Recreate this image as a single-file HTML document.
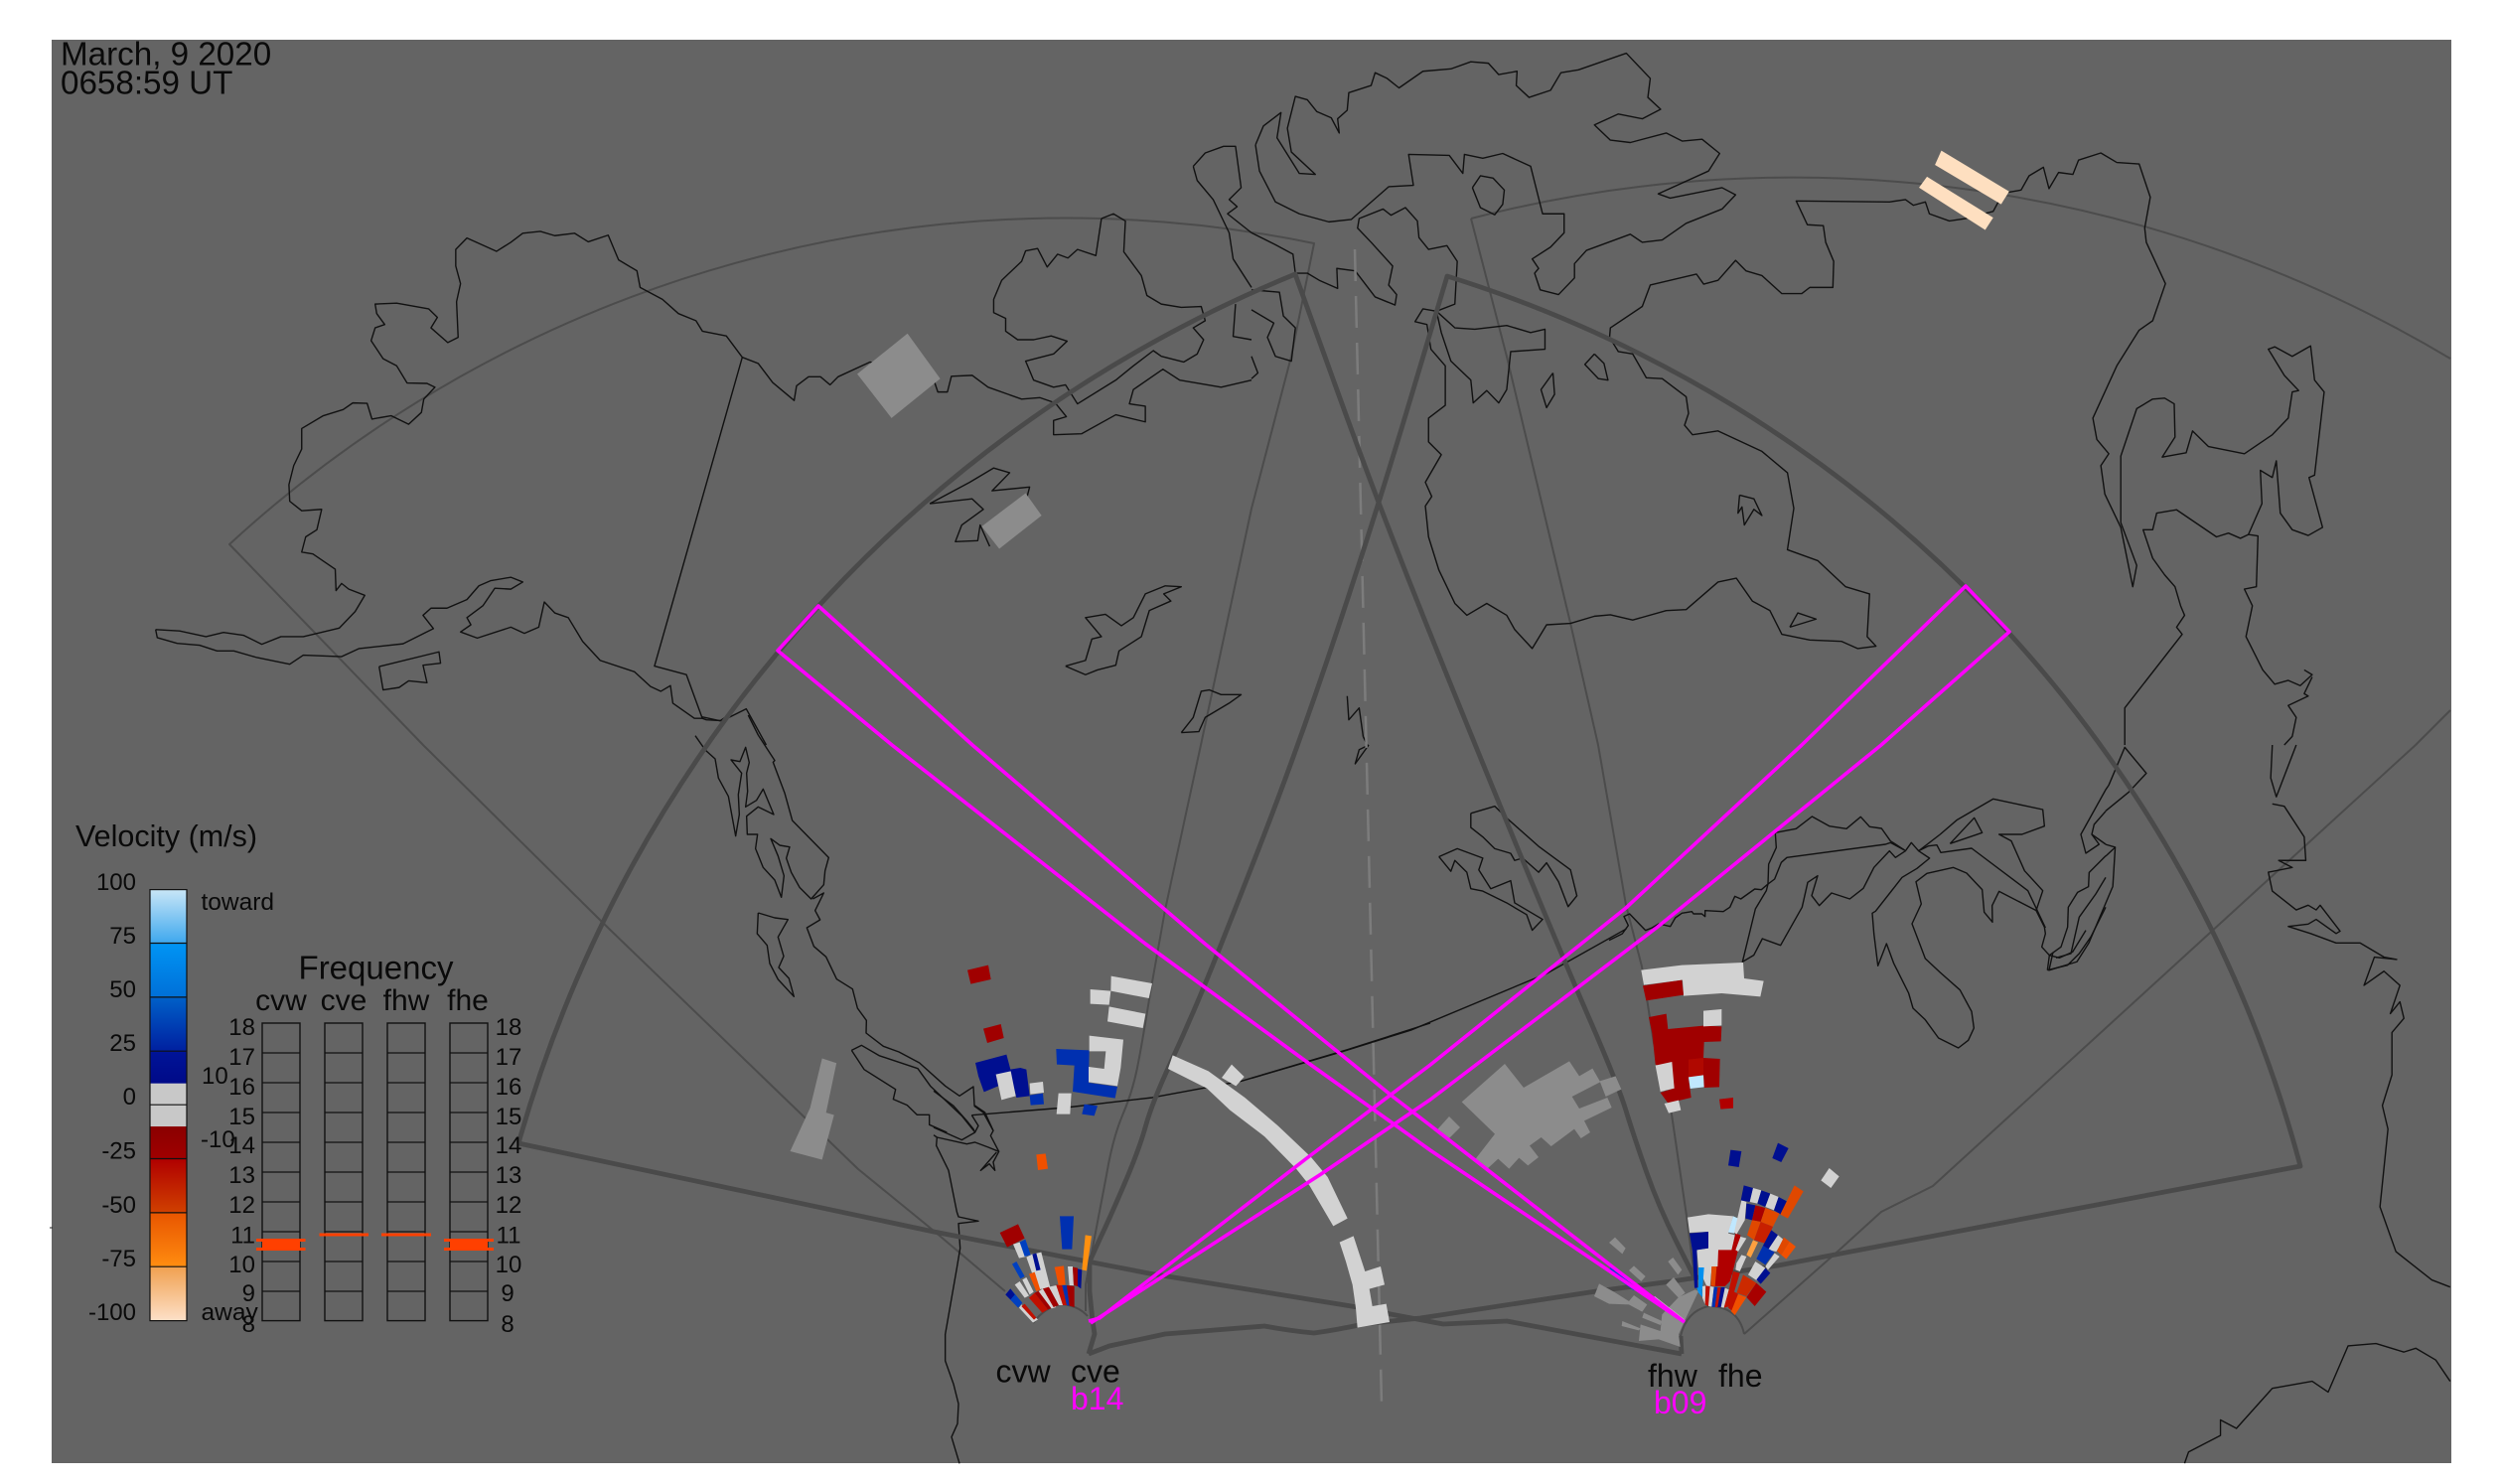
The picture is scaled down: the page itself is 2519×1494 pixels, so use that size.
<!DOCTYPE html>
<html><head><meta charset="utf-8"><style>
html,body{margin:0;padding:0;background:#fff}
svg{display:block;position:absolute;left:0;top:0}
text{font-family:"Liberation Sans",sans-serif;fill:#0a0a0a}
.c polyline{fill:none;stroke:#111;stroke-width:1.4;stroke-linejoin:round;vector-effect:non-scaling-stroke}
.t{fill:none;stroke:#4c4c4c;stroke-width:2;stroke-linejoin:round}
.k{fill:none;stroke:#4a4a4a;stroke-width:4.8;stroke-linejoin:round}
.m{fill:none;stroke:#ff00ff;stroke-width:3.6;stroke-linejoin:round}
.g polygon{fill:#8c8c8c}
.w{fill:#d2d2d2}.r{fill:#a00000}.n{fill:#000f90}.b{fill:#0030b0}.o{fill:#e04800}.a{fill:#f05000}.e{fill:#c01000}
.f rect{fill:none;stroke:#111;stroke-width:1.4}
</style></head><body>
<svg width="2519" height="1494" viewBox="0 0 2519 1494" xmlns="http://www.w3.org/2000/svg">
<rect width="2519" height="1494" fill="#fff"/>
<rect x="52" y="40" width="2416" height="1433" fill="#646464"/>
<line x1="50" y1="1236" x2="53" y2="1236" stroke="#222"/>

<!-- thin FoVs -->
<path class="t" d="M1012,1300 L940,1239 L864,1177 L607,929 L426,750 L231,548 A1243,1243 0 0 1 1323,245 L1300,359 L1260,512 L1209,750 L1173,916 Q1167,950 1158,1000 Q1150,1050 1145,1075 Q1140,1100 1130,1123 Q1120,1147 1114,1183 L1093,1293 L1093,1320"/>
<path class="t" d="M1040,1332 Q1052,1316 1068,1313 Q1085,1314 1095,1325"/>
<polyline class="t" points="1481,220 1517,359 1581,627 1609,750 1637,911 1653,973 1665,1050 1682,1115 1698,1224 1706,1285"/>
<path class="t" d="M1481,220 A1292,1292 0 0 1 2467,361"/>
<polyline class="t" points="1756,1343 1850,1260 1894,1220 1946,1194 2224,940 2432,750 2467,715"/>
<path class="t" d="M1693,1362 L1692,1345 Q1698,1320 1720,1315 Q1750,1315 1756,1343"/>

<!-- coast -->
<g class="c">
<g transform="scale(0.80357,0.47832)">
<polyline points="195,1325 225,1328 258,1340 280,1331 305,1337 328,1356 352,1340 380,1340 425,1322 445,1287 457,1253 437,1240 428,1228 421,1243 420,1198 392,1166 378,1162 383,1130 397,1115 403,1072 378,1075 363,1055 362,1020 368,980 378,945 378,902 405,875 430,862 442,848 460,849 466,882 490,875 512,893 528,868 531,840 545,815 535,807 510,806 497,770 480,755 465,717 470,690 482,683 472,660 470,640 497,638 537,650 548,668 540,690 561,721 574,710 572,635 577,597 571,560 571,525 585,501 622,529 640,510 655,491 677,487 695,496 720,491 737,509 762,495 775,547 798,570 802,605 830,630 850,660 872,675 880,697 910,707 930,752 950,765 968,805 995,843 998,812 1013,793 1028,793 1040,810 1050,793 1090,762 1170,800 1175,825 1187,825 1192,792 1218,790 1238,815 1280,840 1303,837 1322,848 1336,877 1320,885 1320,915 1355,913 1398,873 1435,888 1435,855 1415,850 1420,820 1457,777 1478,800 1530,815 1568,800"/>
<polyline points="195,1325 197,1342 222,1354 250,1358 272,1370 293,1370 322,1384 363,1398 380,1379 428,1382 450,1365 505,1355 543,1323 530,1295 540,1280 560,1280 585,1262 600,1233 615,1222 640,1215 655,1225 640,1240 620,1238 605,1275 585,1300 590,1315 577,1330 598,1343 640,1320 657,1333 675,1320 682,1267 695,1290 712,1300 730,1350 752,1390 795,1414 815,1445 828,1455 840,1443 843,1480 870,1512 880,1512 885,1515 905,1517 935,1492 960,1568"/>
<polyline points="475,1403 550,1372 552,1396 530,1400 535,1437 512,1433 500,1447 480,1452 475,1403"/>
<polyline points="930,752 820,1402 860,1420 880,1512"/>
<polyline points="1380,460 1395,450 1410,465 1408,530 1430,580 1437,622 1455,640 1480,647 1505,645 1510,675 1495,690 1508,715 1500,745 1483,762 1455,750 1445,738 1420,770 1398,800 1350,850 1335,810 1320,815 1295,800 1285,760 1320,745 1337,718 1317,707 1295,715 1275,715 1260,697 1260,670 1245,658 1245,630 1255,590 1280,550 1285,528 1300,523 1312,562 1325,535 1338,543 1350,525 1373,538 1380,460"/>
<polyline points="1495,350 1510,322 1533,308 1548,308 1555,395 1540,420 1550,435 1538,450 1568,490"/>
<polyline points="1495,350 1500,380 1520,420 1540,490 1545,545 1568,605"/>
<polyline points="1548,640 1545,708 1568,715"/>
<polyline points="1165,1060 1215,1015 1245,985 1265,995 1243,1033 1290,1025 1283,1070 1255,1080"/>
<polyline points="1165,1060 1218,1050 1232,1072 1205,1105 1197,1140 1225,1138 1228,1105 1240,1150"/>
<polyline points="1335,1402 1360,1390 1368,1345 1380,1340 1360,1300 1385,1293 1405,1317 1420,1300 1435,1250 1460,1233 1480,1235 1458,1250 1467,1265 1440,1285 1430,1340 1402,1370 1398,1400 1375,1410 1360,1420 1335,1402"/>
<polyline points="1480,1542 1495,1510 1505,1455 1515,1452 1530,1462 1555,1462 1540,1480 1510,1510 1502,1540 1480,1542"/>
</g>
<g transform="translate(1260,0) scale(0.80293,0.47832)">
<polyline points="0,490 30,515 52,535 55,575 70,575 85,590 108,607 107,565 130,570 155,625 180,642 182,620 172,600 177,560 150,510 133,480 135,460 165,440 175,453 193,437 208,465 210,500 222,525 245,517 258,550 255,640 232,655 215,650 205,677 220,683 225,735 243,770 243,853 222,880 222,930 238,957 218,1015 226,1045 218,1065 222,1130 235,1200 255,1270 270,1295 295,1270 320,1295 330,1325 352,1365 370,1315 400,1312 430,1297 450,1294 478,1305 520,1285 545,1283 585,1225 608,1217 628,1265 650,1285 665,1335 700,1347 740,1350 760,1365 783,1360 772,1340 775,1250 745,1235 710,1180 672,1157 680,1070 672,995 640,950 585,907 553,915 543,895 548,870 545,835 515,797 495,795 478,745 460,740 449,710 450,690 490,645 500,600 525,590 558,577 567,598 585,590 607,548 620,570 640,580 665,618 690,618 700,605 729,605 730,550 720,510 717,475 697,473 683,423 800,425 820,420 830,432 845,425 850,450 875,465 895,460 930,445 938,420 948,405 965,400 975,370 993,352 1000,397 1012,363 1030,367 1037,337 1065,322 1085,342 1113,345 1127,415 1120,480 1122,510 1146,597 1130,675 1113,695 1085,770 1055,880 1060,925 1075,955 1065,980 1070,1040 1090,1110 1105,1235 1110,1190 1090,1100 1090,960 1110,860 1130,840 1145,838 1157,850 1158,920 1142,962 1172,953 1180,907 1200,940 1245,955 1280,915 1300,880 1305,825 1313,822 1295,790 1275,735 1283,730 1305,750 1328,728 1333,800 1345,825 1333,1000 1326,1005 1343,1110 1325,1127 1305,1115 1290,1080 1285,970 1280,1005 1265,990 1267,1060 1250,1125 1262,1128 1260,1235 1245,1240 1255,1275 1247,1340 1268,1410 1283,1440 1300,1432 1315,1443 1330,1420 1320,1410"/>
<polyline points="1330,1425 1320,1460 1325,1465 1300,1485 1310,1510 1305,1550 1295,1568"/>
<polyline points="1250,1125 1240,1133 1225,1122 1210,1130 1160,1073 1135,1080 1130,1115 1118,1115 1130,1175 1145,1210 1158,1235 1165,1275 1170,1295 1160,1320 1167,1335 1095,1490 1095,1568"/>
<polyline points="5,305 15,265 37,237 32,290 60,365 80,367 50,320 45,270 55,203 70,210 82,235 100,248 110,280 108,250 120,232 122,195 150,180 155,153 170,165 185,185 215,150 250,145 275,130 297,133 310,157 333,150 332,180 348,205 375,190 388,153 410,147 470,112 500,165 497,205 513,230 490,250 460,240 430,263 450,295 475,300 520,280 540,297 565,293 587,323 573,360 510,408 525,417 590,395 607,410 590,440 545,470 515,505 490,510 475,493 420,527 405,555 405,585 385,620 362,610 355,575 360,565 352,545 375,520 392,490 392,450 365,450 350,350 315,323 290,333 267,325 265,365 248,327 197,325 203,390 172,393 125,462 97,467 60,450 30,425 10,360 5,305"/>
<polyline points="277,395 287,370 303,375 317,400 315,430 305,452 287,437 277,395"/>
<polyline points="232,655 255,690 280,693 320,685 350,700 368,693 368,735 325,740 320,820 310,848 295,822 278,848 275,800 250,760 238,700 232,655"/>
<polyline points="430,745 418,767 435,797 447,800 442,765 430,745"/>
<polyline points="378,785 363,820 370,858 380,830 378,785"/>
<polyline points="675,1320 685,1290 708,1303 675,1320"/>
<polyline points="612,1042 630,1050 640,1085 630,1072 618,1105 615,1067 610,1080 612,1042"/>
<polyline points="0,610 35,615 40,665 55,690 50,760 30,750 20,710 28,680 0,652"/>
<polyline points="0,750 8,785 0,797"/>
<polyline points="120,1465 122,1515 135,1490 140,1550 145,1568"/>
</g>
<g transform="translate(1260,750) scale(0.80293,0.47449)">
<polyline points="147,0 130,40 135,10 147,0"/>
<polyline points="275,145 305,130 320,155 360,215 400,265 408,320 397,343 385,290 370,250 360,270 340,240 330,245 325,230 305,220 290,195 275,175 275,145"/>
<polyline points="235,237 258,220 290,240 285,265 300,305 325,288 330,335 365,370 352,393 345,360 320,335 290,310 275,305 270,270 255,245 250,268 235,237"/>
<polyline points="1071,95 1075,85 1095,5 1122,60 1100,100 1071,140"/>
<polyline points="1071,211 1083,217 1080,300 1050,420 1035,460 1000,478 1005,440"/>
<polyline points="1071,236 1083,217"/>
<polyline points="1280,0 1278,70 1285,110 1310,0"/>
<polyline points="1280,125 1295,130 1320,195 1322,245 1288,245 1305,260 1275,270 1280,310 1310,350 1325,340 1335,350 1340,340 1365,395 1360,400 1335,370 1325,380 1300,385 1328,400 1360,420 1390,420 1420,450 1436,455 1408,450 1395,510 1420,480 1440,510 1428,570 1440,545 1445,580 1430,610 1430,700 1418,765 1425,815 1415,980 1435,1075 1480,1135 1503,1150"/>
<polyline points="1170,1524 1175,1500 1215,1465 1215,1432 1235,1450 1280,1365 1330,1350 1350,1373 1375,1275 1410,1270 1445,1288 1460,1280 1485,1305 1503,1350"/>
</g>
<g transform="translate(1620,780) scale(0.33333)">
<polyline points="0,500 40,480 58,455 45,428 62,420 110,470 130,462 150,450 185,458 200,432 220,418 250,413 255,420 280,420 290,428 290,410 345,413 365,400 380,367 398,375 440,345 460,347 480,330 500,315 520,265 537,250 835,210 850,205 893,228"/>
<polyline points="502,175 565,163 613,126 665,155 717,163 760,127 787,157 823,162 850,200 893,228"/>
<polyline points="502,175 505,220 482,270 480,330 475,350 442,405 403,565 437,545 463,495 518,515 583,400 600,325 630,305 612,365 635,395 672,357 727,375 768,343 800,280 847,230 865,250 895,230 913,205 935,230 968,252 930,283 885,310 805,412 795,418 800,480 812,577 838,510 860,570 905,660 918,705 955,740 995,795 1055,825 1085,802 1102,765 1095,715 1060,650 1000,597 955,555 938,510 915,450 943,390 927,323 960,298 1040,280 1080,297 1127,347 1133,415 1158,445 1157,395 1178,352 1290,410 1310,350 1255,290 1215,200 1178,180 1247,180 1315,155 1310,105 1160,73 1050,137 1000,180 935,230"/>
<polyline points="935,230 965,215 990,212 1002,235 1095,222 1265,350 1318,462"/>
<polyline points="1030,208 1103,130 1127,175 1030,208"/>
<polyline points="1290,410 1315,460 1318,480 1307,520 1330,545 1360,553 1400,535 1440,470"/>
<polyline points="1330,545 1365,520 1385,460 1387,400 1415,355 1448,338 1450,295 1500,245"/>
<polyline points="1324,590 1330,545"/>
<polyline points="1324,590 1385,575 1420,540 1455,490 1500,400"/>
<polyline points="1350,553 1395,540 1420,430 1470,360 1500,310"/>
<polyline points="1500,45 1425,180 1440,237 1480,210 1458,180 1465,150 1500,110"/>
<polyline points="1458,180 1500,210"/>
</g>
<g transform="translate(700,720) scale(0.33333)">
<polyline points="160,0 190,60 240,137 235,142 270,235 293,318 403,430 392,470 388,512 350,555 345,550 315,520 290,475 275,432 285,398 255,393 228,373 250,425 268,485 260,550 240,498 205,460 182,403 188,360 157,360 155,305 190,277 237,300 205,223 185,257 152,277 158,230 155,175 163,143 152,97 135,140 108,135 140,175 130,240 133,300 122,365 100,245 70,190 60,132 30,105 0,62"/>
<polyline points="355,555 388,537 362,590 377,618 337,642 358,698 395,730 427,797 475,827 490,885 517,922 516,960 568,1000 615,1017 677,1050 755,1120 798,1150 840,1122 843,1178 875,1200 900,1255"/>
<polyline points="472,1012 502,997 555,1028 672,1067 710,1120 805,1210 845,1260"/>
<polyline points="472,1012 510,1070 605,1130 598,1160 640,1178 670,1207 707,1207 707,1237 760,1260"/>
<polyline points="190,597 240,612 280,617 250,670 267,728 252,762 283,795 298,850 250,798 225,750 217,695 187,660 190,597"/>
<polyline points="20,5 75,17 100,0"/>
</g>
<g transform="translate(940,950) scale(0.33333)">
<polyline points="0,445 60,490 100,535 120,560 125,570"/>
<polyline points="0,555 85,593 125,570 135,550 115,518"/>
<polyline points="0,578 10,585 100,605 125,600 165,615 197,628 180,660 185,685 168,665 142,685 190,630"/>
<polyline points="122,490 150,510 180,565 172,580 197,628"/>
<polyline points="10,585 8,610 45,685 70,810 75,825 135,838 75,845 80,920 70,980 35,1180 35,1260 60,1330 75,1390 72,1450 54,1490 78,1570"/>
<polyline points="115,518 400,495 660,465 930,415 1250,320 1500,240"/>
</g>
<g transform="translate(1260,750) scale(0.80293,0.47449)">
<polyline points="0,707 115,650 200,605 370,485 470,390"/>
</g>
</g>

<!-- dashed centre -->
<line x1="1364" y1="251" x2="1391" y2="1414" stroke="#7c7c7c" stroke-width="2.5" stroke-dasharray="32 15"/>

<!-- thick FoVs -->
<path class="k" d="M1096,1363 L1102,1343 L1100,1330 L1097,1300 L1097,1270 L1107,1248 Q1117,1227 1132,1192 Q1147,1157 1153.5,1133.5 Q1160,1110 1178.5,1070 Q1197,1030 1213.5,990 Q1230,950 1269,850 Q1308,750 1348,629.5 Q1388,509 1422.5,393.5 L1457,278 A1284,1284 0 0 1 2316,1174 L1790,1274 L1683,1290 L1607,1300 L1430,1327 L1373,1333 Q1345,1339 1323,1342 Q1300,1340 1273,1335 L1173,1343 L1117,1355 L1096,1363"/>
<path class="k" d="M522,1151 A1340,1340 0 0 1 1304,276 L1346,392.5 Q1388,509 1436.5,629.5 Q1485,750 1529,856.5 Q1573,963 1601,1027.5 Q1629,1092 1637,1118 Q1645,1144 1657.5,1179.5 Q1670,1215 1688,1250.5 L1706,1286"/>
<polyline class="k" points="522,1151 940,1240 1157,1282 1373,1317 1400,1323 1453,1333 1517,1330 1693,1363"/>
<path d="M1693,1363 L1692,1345" class="k"/>

<!-- big grey echoes -->
<g class="g">
<polygon transform="scale(0.80357,0.47832)" points="1137,702 1178,797 1117,880 1074,787"/>
<polygon transform="scale(0.80357,0.47832)" points="1285,1038 1305,1085 1252,1155 1230,1108"/>
<polygon transform="translate(0,750) scale(0.80357,0.47449)" points="1030,665 1048,675 1035,780 1045,785 1030,880 990,862 1015,770"/>
<g transform="translate(1400,950) scale(0.33333)">
<polygon points="345,363 402,435 540,355 570,400 610,377 632,415 680,400 697,440 650,462 633,418 548,462 570,498 655,465 668,495 585,535 603,570 575,588 555,560 485,612 455,585 420,610 447,645 415,670 388,647 358,680 325,650 290,682 257,650 315,575 215,478"/>
<polygon points="177,522 210,555 175,590 143,560"/>
</g>
<g transform="translate(1590,1230) scale(0.33333)">
<polygon points="108,47 140,80 130,97 90,63"/>
<polygon points="165,133 200,165 187,180 150,147"/>
<polygon points="283,108 310,145 298,160 268,120"/>
<polygon points="285,168 320,215 300,230 262,190"/>
<polygon points="60,187 105,212 150,240 165,222 205,250 190,272 150,250 90,248 45,225"/>
<polygon points="195,275 250,300 245,312 190,290"/>
<polygon points="130,300 185,322 180,328 128,315"/>
<polygon points="250,280 300,228 350,205 360,210 320,295 300,340 305,378 240,355 180,360 185,310 245,330"/>
</g>
</g>
<g transform="translate(1260,0) scale(0.80293,0.47832)" fill="#fedfc0">
<polygon points="865,317 950,403 940,430 857,347"/>
<polygon points="847,372 930,458 920,484 837,395"/>
</g>

<!-- CV cells -->
<g transform="translate(940,950) scale(0.33333)">
<polygon class="r" points="102,80 165,65 173,108 112,122"/>
<polygon class="r" points="150,257 203,243 212,285 162,300"/>
<polygon class="w" points="536,98 660,120 650,165 535,143"/>
<polygon class="w" points="473,138 535,143 530,185 473,182"/>
<polygon class="w" points="530,190 640,212 632,255 525,235"/>
<polygon class="b" points="370,318 470,322 468,420 555,432 548,467 420,447 425,368 372,365"/>
<polygon class="w" points="470,278 573,290 565,375 555,430 468,418 468,372 515,378 520,325 470,325"/>
<polygon class="n" points="126,360 220,335 232,380 262,375 280,380 290,460 250,465 233,395 188,395 195,430 152,448 135,400"/>
<polygon class="w" points="188,395 233,385 248,460 205,472"/>
<polygon class="w" points="290,422 330,417 333,450 292,455"/>
<polygon class="b" points="290,458 330,452 333,485 293,488"/>
<polygon class="w" points="377,452 416,452 412,515 371,515"/>
<polygon class="b" points="455,485 495,490 485,520 448,515"/>
<polygon class="a" points="310,637 338,634 345,680 315,684"/>
<polygon class="w" points="722,337 830,385 940,465 1040,550 1140,645 1190,705 1250,830 1207,853 1135,730 1095,680 1000,583 895,503 825,437 708,378"/>
<polygon class="w" points="900,365 938,402 913,430 870,405"/>
<polygon class="w" points="1226,902 1268,883 1303,990 1350,975 1362,1030 1316,1043 1325,1095 1367,1088 1377,1143 1280,1160 1275,1100 1265,1030 1245,960"/>
</g>
<g transform="translate(1000,1210) scale(0.33333)">
<polygon class="r" points="20,93 75,67 95,110 42,137"/>
<polygon class="w" points="60,128 80,122 100,165 78,170"/>
<polygon points="80,122 97,113 113,160 95,165" fill="#0040c0"/>
<polygon points="57,188 70,180 95,225 82,232" fill="#0040c0"/>
<polygon class="w" points="100,167 118,158 145,152 172,258 135,265"/>
<polygon class="n" points="118,158 130,155 143,205 130,208"/>
<polygon class="a" points="108,218 125,212 142,265 130,270"/>
<polygon class="w" points="65,250 80,240 108,283 95,290"/>
<polygon class="w" points="88,235 100,228 122,272 110,280"/>
<polygon points="37,280 52,262 88,305 75,320" fill="#0040c0"/>
<polygon class="n" points="37,280 52,262 65,280 52,295"/>
<polygon class="w" points="78,320 85,310 135,355 120,365"/>
<polygon class="e" points="85,315 95,308 130,350 123,356"/>
<polygon class="e" points="108,290 125,275 165,325 148,335"/>
<polygon class="r" points="125,275 145,265 182,318 165,325"/>
<polygon class="w" points="137,270 150,262 190,318 176,322"/>
<polygon class="r" points="150,262 168,257 198,312 182,318"/>
<polygon class="w" points="168,257 190,252 212,312 198,312"/>
<polygon class="e" points="190,250 208,252 222,312 210,312"/>
<polygon class="b" points="208,252 222,252 230,314 222,312"/>
<polygon class="r" points="222,252 245,255 245,318 230,314"/>
<polygon class="a" points="185,197 213,193 218,250 197,252"/>
<polygon class="w" points="225,195 240,195 243,252 230,252"/>
<polygon class="r" points="240,197 255,200 255,255 243,252"/>
<polygon class="n" points="255,202 268,205 265,262 255,255"/>
<polygon points="278,100 297,103 282,208 268,205" fill="#ff9010"/>
<polygon class="b" points="201,43 243,43 238,143 208,143"/>
</g>
<!-- FH cells -->
<g transform="translate(1400,950) scale(0.33333)">
<polygon class="w" points="757,80 880,65 1065,57 1068,105 1127,113 1117,160 1000,150 885,158 882,110 765,125"/>
<polygon class="r" points="762,127 880,110 885,155 772,172"/>
<polygon class="r" points="780,222 833,212 838,258 890,253 945,248 1000,250 998,295 947,297 945,345 995,348 993,433 947,435 945,397 900,405 908,465 838,482 815,450 857,437 850,390 800,365 790,270"/>
<polygon points="900,350 945,345 945,397 900,405" fill="#b00800"/>
<polygon class="w" points="945,203 1000,198 1000,247 945,250"/>
<polygon class="w" points="800,368 850,357 857,437 815,447"/>
<polygon points="900,403 945,397 947,433 905,438" fill="#c0e8ff"/>
<polygon class="w" points="827,483 870,473 877,503 840,512"/>
<polygon points="993,470 1035,465 1035,497 997,500" fill="#b00000"/>
<polygon class="n" points="1027,623 1060,627 1052,675 1020,670"/>
<polygon class="n" points="1170,602 1202,618 1180,660 1153,648"/>
<polygon class="w" points="1325,678 1355,703 1330,738 1300,715"/>
</g>
<g transform="translate(1690,1180) scale(0.33333)">
<polygon class="w" points="27,137 90,127 165,133 150,185 170,190 150,300 100,290 95,345 85,345 60,290 55,235 90,230 90,180 33,183"/>
<polygon class="n" points="33,185 90,180 90,230 55,235 58,350 48,350 42,240"/>
<polygon points="165,133 180,140 168,185 150,182" fill="#c0e8ff"/>
<polygon points="60,288 77,288 72,355 60,350" fill="#0090f0"/>
<polygon points="55,350 70,345 72,378 60,365" fill="#0090f0"/>
<polygon points="120,235 160,235 172,185 187,190 180,235 165,295 155,330 140,345 100,345 100,285 118,285" fill="#b00000"/>
<polygon class="o" points="100,285 115,285 110,345 97,343"/>
<polygon class="w" points="72,345 82,343 80,400 72,380"/>
<polygon class="e" points="82,343 95,345 90,405 80,400"/>
<polygon class="w" points="95,345 107,347 100,407 90,405"/>
<polygon class="b" points="107,347 118,348 110,408 100,407"/>
<polygon class="e" points="118,348 128,348 118,408 110,408"/>
<polygon class="n" points="128,348 140,348 128,408 118,408"/>
<polygon class="w" points="140,350 152,355 137,410 128,408"/>
<polygon class="e" points="152,355 165,300 185,305 155,405 137,410"/>
<polygon class="w" points="190,85 205,90 200,145 175,188 168,182"/>
<polygon class="n" points="197,40 225,48 215,90 188,85"/>
<polygon class="w" points="225,48 250,55 238,95 215,90"/>
<polygon class="n" points="250,55 277,65 262,105 238,95"/>
<polygon class="w" points="277,65 302,75 288,115 262,105"/>
<polygon class="n" points="302,75 327,88 308,128 288,115"/>
<polygon class="o" points="350,40 377,58 330,140 307,128"/>
<polygon class="n" points="205,95 232,100 222,145 202,140"/>
<polygon points="232,100 262,108 248,150 222,145" fill="#a80000"/>
<polygon class="o" points="262,108 305,125 285,165 248,150"/>
<polygon class="o" points="222,145 248,150 228,205 207,190"/>
<polygon points="248,150 285,165 260,215 228,205" fill="#c82000"/>
<polygon class="w" points="187,195 205,200 180,240 172,235"/>
<polygon points="225,205 240,212 218,258 205,250" fill="#ffa040"/>
<polygon class="n" points="280,175 300,190 270,235 255,222"/>
<polygon class="w" points="300,190 318,205 295,240 270,235"/>
<polygon class="o" points="318,197 335,210 310,250 297,238"/>
<polygon class="a" points="335,210 354,225 325,263 310,250"/>
<polygon class="b" points="255,222 290,242 262,280 235,262"/>
<polygon class="w" points="290,245 305,255 270,295 262,285"/>
<polygon class="w" points="232,270 262,290 240,330 210,310"/>
<polygon class="n" points="262,290 277,305 248,338 235,325"/>
<polygon class="w" points="175,275 190,250 205,255 185,300 172,295"/>
<polygon points="195,310 235,335 205,375 175,365" fill="#cc2a00"/>
<polygon points="235,335 265,362 230,405 205,378" fill="#a80000"/>
<polygon class="a" points="178,368 205,378 170,432 158,420"/>
<polygon class="e" points="165,360 180,368 160,418 150,410"/>
</g>
<g transform="translate(1590,1230) scale(0.33333)">
<polygon points="85,150 100,130 177,190 165,208" fill="#0050c0"/>
<polygon class="r" points="172,208 185,195 222,223 212,237"/>
<polygon class="w" points="218,235 228,225 318,295 312,302"/>
</g>

<!-- magenta beams -->
<polyline class="m" points="1096,1330 1107,1327 1317,1165 1440,1072 1637,914 1814,750 1979,590 2023,636 1894,750 1669,933 1440,1107 1330,1182 1098,1332"/>
<polyline class="m" points="1696,1331 1623,1275 1440,1133 1401,1103 1213,950 979,750 824,610 783,655 898,750 1153,950 1317,1070 1401,1130 1440,1158 1618,1278 1696,1331"/>

<!-- text -->
<text x="61" y="65.5" font-size="33.2">March, 9 2020</text>
<text x="61" y="94.5" font-size="33.2">0658:59 UT</text>
<text x="76" y="852" font-size="30.5">Velocity (m/s)</text>

<defs><linearGradient id="cb" x1="0" y1="0" x2="0" y2="1">
<stop offset="0" stop-color="#c8e6f7"/><stop offset="0.124" stop-color="#3fa8ee"/>
<stop offset="0.125" stop-color="#0094f4"/><stop offset="0.249" stop-color="#0070d8"/>
<stop offset="0.25" stop-color="#0060c8"/><stop offset="0.374" stop-color="#0020a0"/>
<stop offset="0.375" stop-color="#001498"/><stop offset="0.449" stop-color="#000a88"/>
<stop offset="0.45" stop-color="#c8c8c8"/><stop offset="0.549" stop-color="#c8c8c8"/>
<stop offset="0.55" stop-color="#8a0000"/><stop offset="0.624" stop-color="#a00000"/>
<stop offset="0.625" stop-color="#b00000"/><stop offset="0.749" stop-color="#d04000"/>
<stop offset="0.75" stop-color="#e85500"/><stop offset="0.874" stop-color="#ff8c10"/>
<stop offset="0.875" stop-color="#f0a050"/><stop offset="1" stop-color="#fde0c8"/>
</linearGradient></defs>
<rect x="151" y="895.6" width="37" height="434" fill="url(#cb)" stroke="#111" stroke-width="1.2"/>
<path stroke="#111" stroke-width="1.2" fill="none" d="M151,949.5H188M151,1003.9H188M151,1058.2H188M151,1112.2H188M151,1166.5H188M151,1220.9H188M151,1275.2H188"/>
<g font-size="24" text-anchor="end">
<text x="137" y="896">100</text><text x="137" y="950">75</text><text x="137" y="1004">50</text>
<text x="137" y="1058">25</text><text x="137" y="1112">0</text><text x="137" y="1166.5">-25</text>
<text x="137" y="1221">-50</text><text x="137" y="1275">-75</text><text x="137" y="1329">-100</text>
</g>
<text x="202.5" y="916" font-size="24.5">toward</text>
<text x="202.5" y="1329" font-size="24.5">away</text>
<text x="203" y="1091" font-size="24">10</text>
<text x="202" y="1155" font-size="24">-10</text>

<text x="378.5" y="985.5" font-size="33" text-anchor="middle">Frequency</text>
<g font-size="30" text-anchor="middle">
<text x="283" y="1017">cvw</text><text x="346" y="1017">cve</text><text x="409" y="1017">fhw</text><text x="471" y="1017">fhe</text>
</g>
<g class="f">
<rect x="264" y="1030" width="38" height="299.6"/><rect x="327" y="1030" width="38" height="299.6"/>
<rect x="390" y="1030" width="38" height="299.6"/><rect x="453" y="1030" width="38" height="299.6"/>
</g>
<path stroke="#111" stroke-width="1.3" fill="none" d="M264,1060H302M264,1090H302M264,1120H302M264,1150H302M264,1180H302M264,1210H302M264,1240H302M264,1270H302M264,1300H302M327,1060H365M327,1090H365M327,1120H365M327,1150H365M327,1180H365M327,1210H365M327,1240H365M327,1270H365M327,1300H365M390,1060H428M390,1090H428M390,1120H428M390,1150H428M390,1180H428M390,1210H428M390,1240H428M390,1270H428M390,1300H428M453,1060H491M453,1090H491M453,1120H491M453,1150H491M453,1180H491M453,1210H491M453,1240H491M453,1270H491M453,1300H491"/>
<g font-size="24" text-anchor="end">
<text x="257" y="1042">18</text><text x="257" y="1072">17</text><text x="257" y="1102">16</text><text x="257" y="1132">15</text><text x="257" y="1161">14</text><text x="257" y="1191">13</text><text x="257" y="1221">12</text><text x="257" y="1251.5">11</text><text x="257" y="1281">10</text><text x="257" y="1310">9</text><text x="257" y="1341">8</text>
</g>
<g font-size="24" text-anchor="middle">
<text x="512" y="1042">18</text><text x="512" y="1072">17</text><text x="512" y="1102">16</text><text x="512" y="1132">15</text><text x="512" y="1161">14</text><text x="512" y="1191">13</text><text x="512" y="1221">12</text><text x="512" y="1251.5">11</text><text x="512" y="1281">10</text><text x="511" y="1310">9</text><text x="511" y="1341">8</text>
</g>
<g fill="#ff4000">
<rect x="264" y="1247.5" width="38" height="11"/><rect x="258" y="1247" width="49.5" height="3"/><rect x="258" y="1256" width="49.5" height="3"/>
<rect x="453" y="1247.5" width="38" height="11"/><rect x="447" y="1247" width="50" height="3"/><rect x="447" y="1256" width="50" height="3"/>
<rect x="321.5" y="1241.5" width="49.5" height="3"/><rect x="384" y="1241.5" width="50" height="3"/>
</g>

<text x="1002.5" y="1391.5" font-size="32">cvw</text>
<text x="1078" y="1391.5" font-size="32">cve</text>
<text x="1078" y="1419" font-size="32" style="fill:#ff00ff">b14</text>
<text x="1659" y="1396" font-size="32">fhw</text>
<text x="1730" y="1396" font-size="32">fhe</text>
<text x="1665" y="1423" font-size="32" style="fill:#ff00ff">b09</text>
</svg>
</body></html>
